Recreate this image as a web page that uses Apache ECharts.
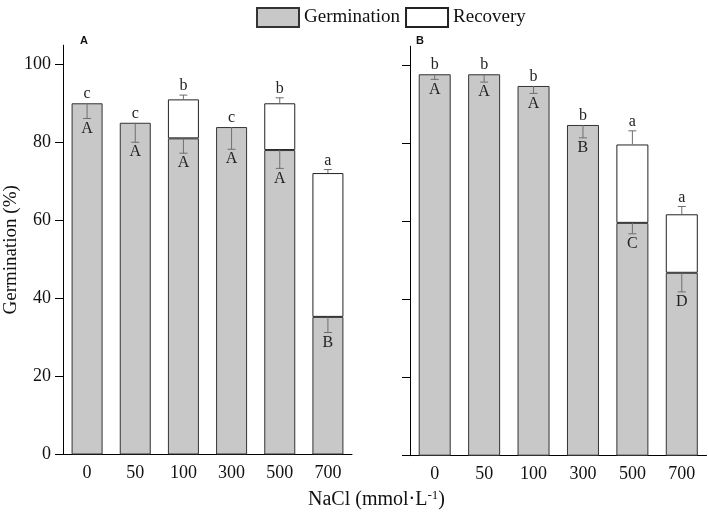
<!DOCTYPE html>
<html>
<head>
<meta charset="utf-8">
<script src="https://cdn.jsdelivr.net/npm/echarts@6/dist/echarts.min.js"></script>
<style>html,body{margin:0;padding:0;background:#fff}#c{width:708px;height:513px}</style>
</head>
<body>
<div id="c"></div>
<script>
const categories = ['0', '50', '100', '300', '500', '700'];
const yTicks = [0, 20, 40, 60, 80, 100];

// Panel A
const germA = [90.1, 85.1, 81.1, 84.0, 78.1, 35.3];
const recA = [null, null, 10.0, null, 12.0, 36.9];
const germErrA = [3.9, 5.0, 3.8, 5.7, 4.7, 4.0];
const recErrA = [null, null, 1.1, null, 1.4, 0.9];
const lowerLetA = ['c', 'c', 'b', 'c', 'b', 'a'];
const upperLetA = ['A', 'A', 'A', 'A', 'A', 'B'];

// Panel B
const germB = [97.8, 97.8, 94.8, 84.8, 59.7, 46.9];
const recB = [null, null, null, null, 20.1, 15.0];
const germErrB = [1.3, 2.0, 1.9, 3.3, 2.8, 4.9];
const recErrB = [null, null, null, null, 3.5, 2.0];
const lowerLetB = ['b', 'b', 'b', 'b', 'a', 'a'];
const upperLetB = ['A', 'A', 'A', 'B', 'C', 'D'];

const SERIF = "'Liberation Serif','Times New Roman',serif";
const GRAY = '#c8c8c8';

function errRenderer(germ, rec, gErr, rErr, lowL, upL) {
  return function (params, api) {
    const i = api.value(0);
    const children = [];
    const errStyle = { stroke: '#6e6e6e', lineWidth: 1 };
    const cap = 4;
    const pTop = api.coord([i, germ[i]]);
    const pLow = api.coord([i, germ[i] - gErr[i]]);
    const x = pTop[0];
    children.push({ type: 'line', shape: { x1: x, y1: pTop[1], x2: x, y2: pLow[1] }, style: errStyle });
    children.push({ type: 'line', shape: { x1: x - cap, y1: pLow[1], x2: x + cap, y2: pLow[1] }, style: errStyle });
    let lowerY;
    if (rec[i] != null) {
      const tot = germ[i] + rec[i];
      const pT = api.coord([i, tot]);
      const pU = api.coord([i, tot + rErr[i]]);
      children.push({ type: 'line', shape: { x1: x, y1: pT[1], x2: x, y2: pU[1] }, style: errStyle });
      children.push({ type: 'line', shape: { x1: x - cap, y1: pU[1], x2: x + cap, y2: pU[1] }, style: errStyle });
      lowerY = pU[1];
    } else {
      lowerY = pTop[1];
    }
    children.push({ type: 'text', x: x, y: lowerY - 1,
      style: { text: lowL[i], font: '16px ' + SERIF, fill: '#222', align: 'center', verticalAlign: 'bottom' } });
    children.push({ type: 'text', x: x, y: pLow[1] + 2,
      style: { text: upL[i], font: '16px ' + SERIF, fill: '#222', align: 'center', verticalAlign: 'top' } });
    return { type: 'group', children: children };
  };
}

function xAxisCfg(gi) {
  return {
    type: 'category', gridIndex: gi, data: categories,
    axisLine: { lineStyle: { color: '#000', width: 1 } },
    axisTick: { alignWithLabel: true, length: 6, lineStyle: { color: '#000' } },
    axisLabel: { color: '#111', fontSize: 18, fontFamily: SERIF, margin: 10 }
  };
}
function yAxisCfg(gi, showLabels) {
  const c = {
    type: 'value', gridIndex: gi, min: 0, max: 105,
    axisLine: { show: true, lineStyle: { color: '#000', width: 1 } },
    axisTick: { show: true, length: 8, customValues: yTicks, lineStyle: { color: '#000' } },
    axisLabel: { show: showLabels, customValues: yTicks, color: '#111', fontSize: 18, fontFamily: SERIF, margin: 12 },
    splitLine: { show: false }
  };
  if (showLabels) {
    c.name = 'Germination (%)';
    c.nameLocation = 'middle';
    c.nameGap = 38;
    c.nameTextStyle = { fontSize: 19, fontFamily: SERIF, color: '#111' };
  }
  return c;
}

const barGerm = { color: GRAY, borderColor: '#333', borderWidth: 1 };
const barRec = { color: '#fff', borderColor: '#222', borderWidth: 1 };

const chart = echarts.init(document.getElementById('c'), null, { renderer: 'canvas' });
chart.setOption({
  animation: false,
  backgroundColor: '#fff',
  legend: {
    top: 2, left: 251, itemWidth: 42, itemHeight: 19, itemGap: 5,
    icon: 'rect',
    textStyle: { fontSize: 19, fontFamily: SERIF, color: '#111' },
    data: ['Germination', 'Recovery']
  },
  title: {
    text: '{a|NaCl (mmol·L}{s|-1}{a|)}',
    left: 303, top: 484,
    textStyle: {
      fontWeight: 'normal',
      rich: {
        a: { fontSize: 20, fontFamily: SERIF, color: '#111', fontWeight: 'normal' },
        s: { fontSize: 13, fontFamily: SERIF, color: '#111', fontWeight: 'normal', verticalAlign: 'top', padding: [0, 0, 8, 0] }
      }
    }
  },
  graphic: [
    { type: 'text', left: 80, top: 35, style: { text: 'A', font: 'bold 11px Arial, Liberation Sans, sans-serif', fill: '#111' } },
    { type: 'text', left: 416, top: 35, style: { text: 'B', font: 'bold 11px Arial, Liberation Sans, sans-serif', fill: '#111' } }
  ],
  grid: [
    { left: 63, right: 356, top: 45.2, bottom: 58.5 },
    { left: 410, right: 1.5, top: 46.2, bottom: 57.3 }
  ],
  xAxis: [xAxisCfg(0), xAxisCfg(1)],
  yAxis: [yAxisCfg(0, true), yAxisCfg(1, false)],
  series: [
    { name: 'Germination', type: 'bar', stack: 'a', xAxisIndex: 0, yAxisIndex: 0, barWidth: 31, data: germA, itemStyle: barGerm },
    { name: 'Recovery', type: 'bar', stack: 'a', xAxisIndex: 0, yAxisIndex: 0, barWidth: 31, data: recA, itemStyle: barRec },
    { name: 'Germination', type: 'bar', stack: 'b', xAxisIndex: 1, yAxisIndex: 1, barWidth: 32, data: germB, itemStyle: barGerm },
    { name: 'Recovery', type: 'bar', stack: 'b', xAxisIndex: 1, yAxisIndex: 1, barWidth: 32, data: recB, itemStyle: barRec },
    { type: 'custom', xAxisIndex: 0, yAxisIndex: 0, z: 10, clip: false,
      data: categories.map((c, i) => [i]),
      renderItem: errRenderer(germA, recA, germErrA, recErrA, lowerLetA, upperLetA) },
    { type: 'custom', xAxisIndex: 1, yAxisIndex: 1, z: 10, clip: false,
      data: categories.map((c, i) => [i]),
      renderItem: errRenderer(germB, recB, germErrB, recErrB, lowerLetB, upperLetB) }
  ]
});
</script>
</body>
</html>
